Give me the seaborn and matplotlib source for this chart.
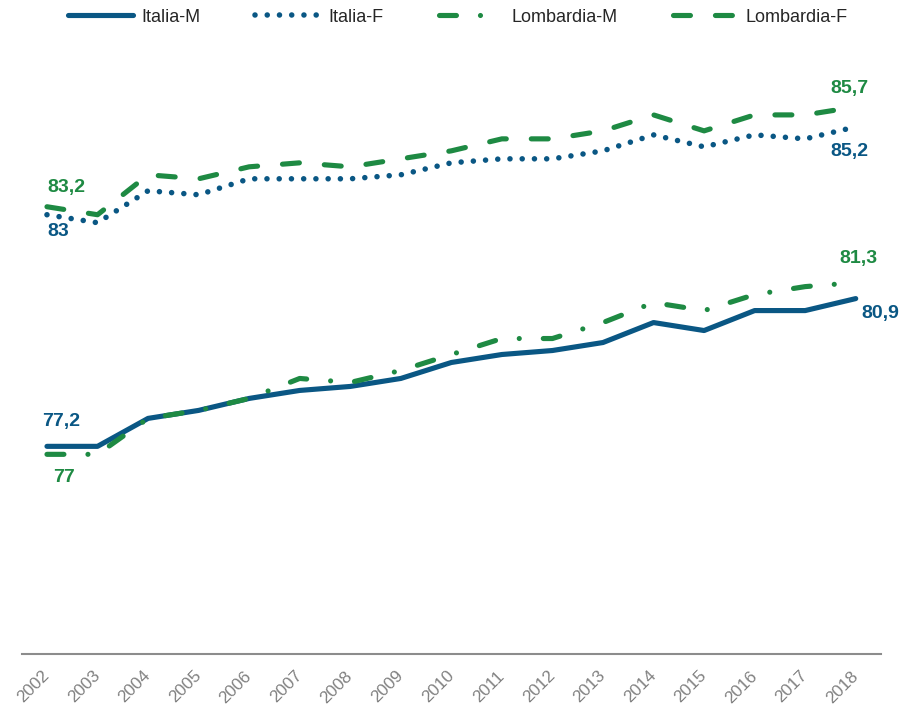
import matplotlib
matplotlib.use("Agg")
import matplotlib.pyplot as plt
import seaborn as sns
import pandas as pd

years = list(range(2002, 2019))
italia_m = [77.2, 77.2, 77.9, 78.1, 78.4, 78.6, 78.7, 78.9, 79.3, 79.5, 79.6, 79.8, 80.3, 80.1, 80.6, 80.6, 80.9]
italia_f = [83.0, 82.8, 83.6, 83.5, 83.9, 83.9, 83.9, 84.0, 84.3, 84.4, 84.4, 84.6, 85.0, 84.7, 85.0, 84.9, 85.2]
lombardia_m = [77.0, 77.0, 77.9, 78.1, 78.4, 78.9, 78.8, 79.1, 79.5, 79.9, 79.9, 80.3, 80.8, 80.6, 81.0, 81.2, 81.3]
lombardia_f = [83.2, 83.0, 84.0, 83.9, 84.2, 84.3, 84.2, 84.4, 84.6, 84.9, 84.9, 85.1, 85.5, 85.1, 85.5, 85.5, 85.7]
series_names = ["Italia-M", "Italia-F", "Lombardia-M", "Lombardia-F"]

BLUE = "#0a5784"
GREEN = "#1e8a43"

sns.set_theme(style="white")
plt.rcParams["font.family"] = ["Liberation Sans", "DejaVu Sans"]
plt.rcParams["lines.scale_dashes"] = False

fig = plt.figure(figsize=(8.99, 7.06), dpi=100)
ax = fig.add_axes([21.7 / 899, 52 / 706, (881 - 21.7) / 899, 599 / 706])

styles = {
    "Italia-M": dict(color=BLUE, linestyle="-", linewidth=3.7),
    "Italia-F": dict(color=BLUE, linestyle=(0, (0.01, 8.8)), linewidth=4.0),
    "Lombardia-M": dict(color=GREEN, linestyle=(0, (12.2, 17.3, 0.01, 17.3)), linewidth=3.7),
    "Lombardia-F": dict(color=GREEN, linestyle=(0, (12.2, 18.0)), linewidth=3.7),
}
data = {"Italia-M": italia_m, "Italia-F": italia_f, "Lombardia-M": lombardia_m, "Lombardia-F": lombardia_f}

for name in series_names:
    df = pd.DataFrame({"year": years, "value": data[name]})
    sns.lineplot(data=df, x="year", y="value", ax=ax, label=name,
                 solid_capstyle="round", dash_capstyle="round", solid_joinstyle="round",
                 dash_joinstyle="round", **styles[name])

ax.set_xlim(2001.5, 2018.5)
ax.set_ylim(72, 87)
ax.set_xlabel("")
ax.set_ylabel("")
ax.set_yticks([])
ax.set_xticks(years)
ax.set_xticklabels([str(y) for y in years], rotation=45, ha="right", va="center",
                   rotation_mode="anchor", fontsize=12.3, color="#808080")
ax.tick_params(axis="x", length=0, pad=14)
for s in ["top", "left", "right"]:
    ax.spines[s].set_visible(False)
ax.spines["bottom"].set_color("#8c8c8c")
ax.spines["bottom"].set_linewidth(1.5)
ax.grid(False)

def lab(x, y, txt, dx, dy, color):
    ax.annotate(txt, xy=(x, y), xytext=(dx, dy), textcoords="offset pixels",
                ha="left", va="baseline", fontsize=14, fontweight="bold", color=color)

lab(years[0], lombardia_f[0], "83,2", 0, 14.5, GREEN)
lab(years[0], italia_f[0], "83", 0, -21.5, BLUE)
lab(years[0], italia_m[0], "77,2", -5, 20, BLUE)
lab(years[0], lombardia_m[0], "77", 6, -27.5, GREEN)
lab(years[-1], lombardia_f[-1], "85,7", -25, 14, GREEN)
lab(years[-1], italia_f[-1], "85,2", -25, -29, BLUE)
lab(years[-1], lombardia_m[-1], "81,3", -16, 19.5, GREEN)
lab(years[-1], italia_m[-1], "80,9", 6, -19.5, BLUE)

ax.get_legend().remove()
handles, labels = ax.get_legend_handles_labels()
fig.legend(handles, labels, loc="center", bbox_to_anchor=(458 / 899, 1 - 17 / 706), ncol=4,
           frameon=False, fontsize=13, handlelength=3.6, handletextpad=0.45, columnspacing=3.05)

fig.savefig("out.png", dpi=100)
